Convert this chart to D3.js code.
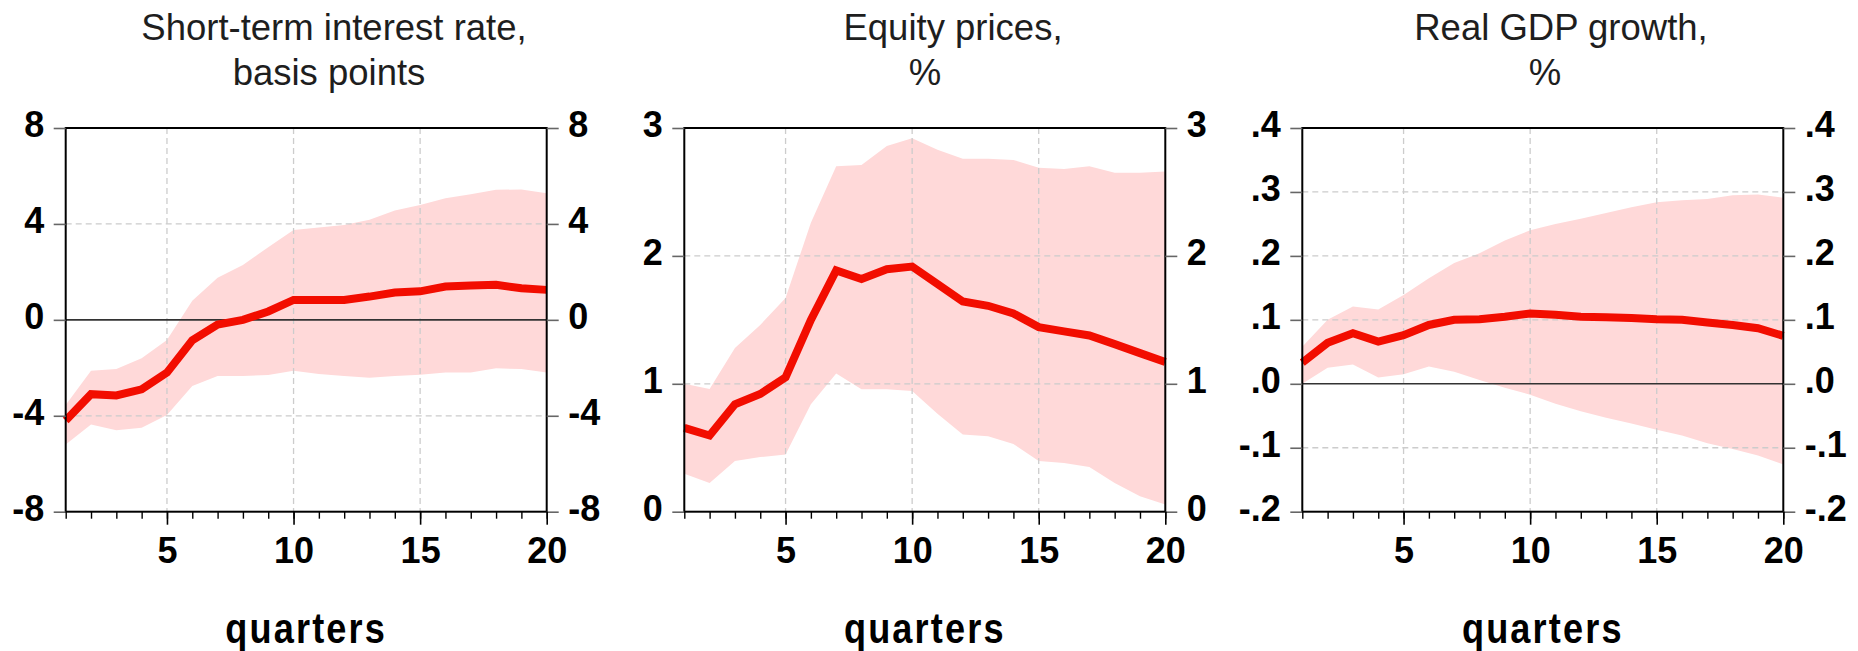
<!DOCTYPE html>
<html><head><meta charset="utf-8">
<script src="https://cdn.jsdelivr.net/npm/d3@7"></script>
<style>body{margin:0;background:#fff}svg{display:block}</style>
</head><body>
<svg id="chart" width="1858" height="651"></svg>
<script>
// ---------- data ----------
const quarters = [1,2,3,4,5,6,7,8,9,10,11,12,13,14,15,16,17,18,19,20];
const xTickValues = [5,10,15,20];
const xAxisLabel = "quarters";

const rateTitle = ["Short-term interest rate,", "basis points"];
const rateMid  = [-4.2,-3.1,-3.15,-2.9,-2.2,-0.85,-0.2,0.0,0.35,0.83,0.83,0.83,0.97,1.14,1.19,1.39,1.43,1.46,1.32,1.25];
const rateHigh = [-3.55,-2.12,-2.05,-1.6,-0.84,0.8,1.76,2.29,3.03,3.75,3.85,3.96,4.17,4.56,4.79,5.07,5.24,5.42,5.44,5.28];
const rateLow  = [-5.2,-4.36,-4.6,-4.5,-3.97,-2.76,-2.34,-2.34,-2.3,-2.12,-2.26,-2.34,-2.41,-2.34,-2.29,-2.2,-2.2,-2.02,-2.05,-2.2];
const rateTicks = [-8,-4,0,4,8];
const rateTickLabels = ["-8","-4","0","4","8"];

const equityTitle = ["Equity prices,", "%"];
const equityMid  = [0.656,0.596,0.84,0.92,1.05,1.5,1.886,1.82,1.896,1.917,1.78,1.644,1.61,1.55,1.443,1.41,1.378,1.31,1.24,1.17];
const equityHigh = [1.0,0.96,1.28,1.46,1.67,2.26,2.70,2.71,2.86,2.92,2.83,2.76,2.76,2.75,2.69,2.68,2.70,2.65,2.65,2.66];
const equityLow  = [0.297,0.224,0.396,0.427,0.448,0.84,1.08,0.958,0.958,0.943,0.766,0.604,0.589,0.53,0.396,0.38,0.35,0.224,0.12,0.057];
const equityTicks = [0,1,2,3];
const equityTickLabels = ["0","1","2","3"];

const gdpTitle = ["Real GDP growth,", "%"];
const gdpMid  = [0.033,0.064,0.079,0.066,0.076,0.092,0.100,0.101,0.105,0.110,0.108,0.105,0.104,0.103,0.101,0.100,0.096,0.092,0.087,0.075];
const gdpHigh = [0.058,0.100,0.121,0.116,0.139,0.165,0.189,0.204,0.224,0.240,0.250,0.258,0.267,0.276,0.284,0.287,0.289,0.295,0.296,0.291];
const gdpLow  = [0.0,0.025,0.030,0.010,0.015,0.027,0.019,0.006,-0.006,-0.017,-0.031,-0.043,-0.053,-0.062,-0.072,-0.081,-0.093,-0.102,-0.112,-0.126];
const gdpTicks = [-0.2,-0.1,0,0.1,0.2,0.3,0.4];
const gdpTickLabels = ["-.2","-.1",".0",".1",".2",".3",".4"];

// ---------- layout ----------
const panelLefts = [65.7, 684.3, 1302.3];
const plotW = 481, plotTop = 128, plotBottom = 511.7;
const titleCenters = [[334, 329], [953, 925], [1561, 1545]];
const FONT = "'Liberation Sans', Arial, Helvetica, sans-serif";
const RED = "#f20d00", BAND = "#ffd9d9", GRID = "#cccccc";

const panels = [
  {title: rateTitle, mid: rateMid, lo: rateLow, hi: rateHigh, ticks: rateTicks, labels: rateTickLabels},
  {title: equityTitle, mid: equityMid, lo: equityLow, hi: equityHigh, ticks: equityTicks, labels: equityTickLabels},
  {title: gdpTitle, mid: gdpMid, lo: gdpLow, hi: gdpHigh, ticks: gdpTicks, labels: gdpTickLabels}
];

const svg = d3.select("#chart");

panels.forEach((p, pi) => {
  const left = panelLefts[pi], right = left + plotW;
  const x = d3.scaleLinear().domain([quarters[0], quarters[quarters.length-1]]).range([left, right]);
  const yDom = [p.ticks[0], p.ticks[p.ticks.length-1]];
  const y = d3.scaleLinear().domain(yDom).range([plotBottom, plotTop]);
  const g = svg.append("g");
  const rows = quarters.map((q, i) => ({q, m: p.mid[i], lo: p.lo[i], hi: p.hi[i]}));

  // band
  g.append("path").datum(rows)
    .attr("d", d3.area().x(d => x(d.q)).y0(d => y(d.lo)).y1(d => y(d.hi)))
    .attr("fill", BAND);

  // grid
  p.ticks.slice(1, -1).forEach(t => {
    if (t === 0) return;
    g.append("line").attr("x1", left).attr("x2", right).attr("y1", y(t)).attr("y2", y(t))
      .attr("stroke", GRID).attr("stroke-width", 1.3).attr("stroke-dasharray", "6,4");
  });
  xTickValues.slice(0, -1).forEach(t => {
    g.append("line").attr("x1", x(t)).attr("x2", x(t)).attr("y1", plotTop).attr("y2", plotBottom)
      .attr("stroke", GRID).attr("stroke-width", 1.3).attr("stroke-dasharray", "6,4");
  });
  // zero line
  if (yDom[0] < 0 && yDom[1] > 0) {
    g.append("line").attr("x1", left).attr("x2", right).attr("y1", y(0)).attr("y2", y(0))
      .attr("stroke", "#333").attr("stroke-width", 1.6);
  }

  // line
  g.append("path").datum(rows)
    .attr("d", d3.line().x(d => x(d.q)).y(d => y(d.m)))
    .attr("fill", "none").attr("stroke", RED).attr("stroke-width", 8)
    .attr("stroke-linejoin", "miter").attr("stroke-miterlimit", 3);

  // frame
  g.append("rect").attr("x", left).attr("y", plotTop).attr("width", plotW).attr("height", plotBottom - plotTop)
    .attr("fill", "none").attr("stroke", "#000").attr("stroke-width", 2);

  // y axes
  const styleY = (sel, side) => {
    sel.select(".domain").remove();
    sel.selectAll(".tick line").attr("stroke", "#666").attr("stroke-width", 1.6);
    sel.selectAll(".tick text")
      .attr("x", side * 21.5).attr("dy", null).attr("y", 8.7)
      .attr("fill", "#000").style("font-family", FONT).style("font-weight", "bold").style("font-size", "36px");
  };
  const yl = g.append("g").attr("transform", `translate(${left},0)`)
    .call(d3.axisLeft(y).tickValues(p.ticks).tickSize(12).tickFormat((d, i) => p.labels[i]));
  styleY(yl, -1);
  const yr = g.append("g").attr("transform", `translate(${right},0)`)
    .call(d3.axisRight(y).tickValues(p.ticks).tickSize(12).tickFormat((d, i) => p.labels[i]));
  styleY(yr, 1);

  // x axis minor + major
  const xm = g.append("g").attr("transform", `translate(0,${plotBottom})`)
    .call(d3.axisBottom(x).tickValues(quarters).tickSize(7).tickFormat(""));
  xm.select(".domain").remove();
  xm.selectAll(".tick line").attr("stroke", "#000").attr("stroke-width", 1.4);
  const xM = g.append("g").attr("transform", `translate(0,${plotBottom})`)
    .call(d3.axisBottom(x).tickValues(xTickValues).tickSize(13).tickFormat(d3.format("d")));
  xM.select(".domain").remove();
  xM.selectAll(".tick line").attr("stroke", "#000").attr("stroke-width", 1.6);
  xM.selectAll(".tick text").attr("dy", null).attr("y", 51.3).attr("fill", "#000")
    .style("font-family", FONT).style("font-weight", "bold").style("font-size", "36px");

  // titles
  p.title.forEach((t, li) => {
    svg.append("text").attr("x", titleCenters[pi][li]).attr("y", li === 0 ? 39.5 : 85)
      .attr("text-anchor", "middle").attr("fill", "#1e1e1e")
      .style("font-family", FONT).style("font-size", "36.5px").text(t);
  });

  // x label (slightly condensed, letter-spaced)
  svg.append("text").attr("transform", `translate(${left + plotW / 2},643) scale(0.86,1)`)
    .attr("text-anchor", "middle")
    .attr("fill", "#000").style("font-family", FONT).style("font-weight", "bold")
    .style("font-size", "42px").style("letter-spacing", "2.5px").text(xAxisLabel);
});
</script>
</body></html>
